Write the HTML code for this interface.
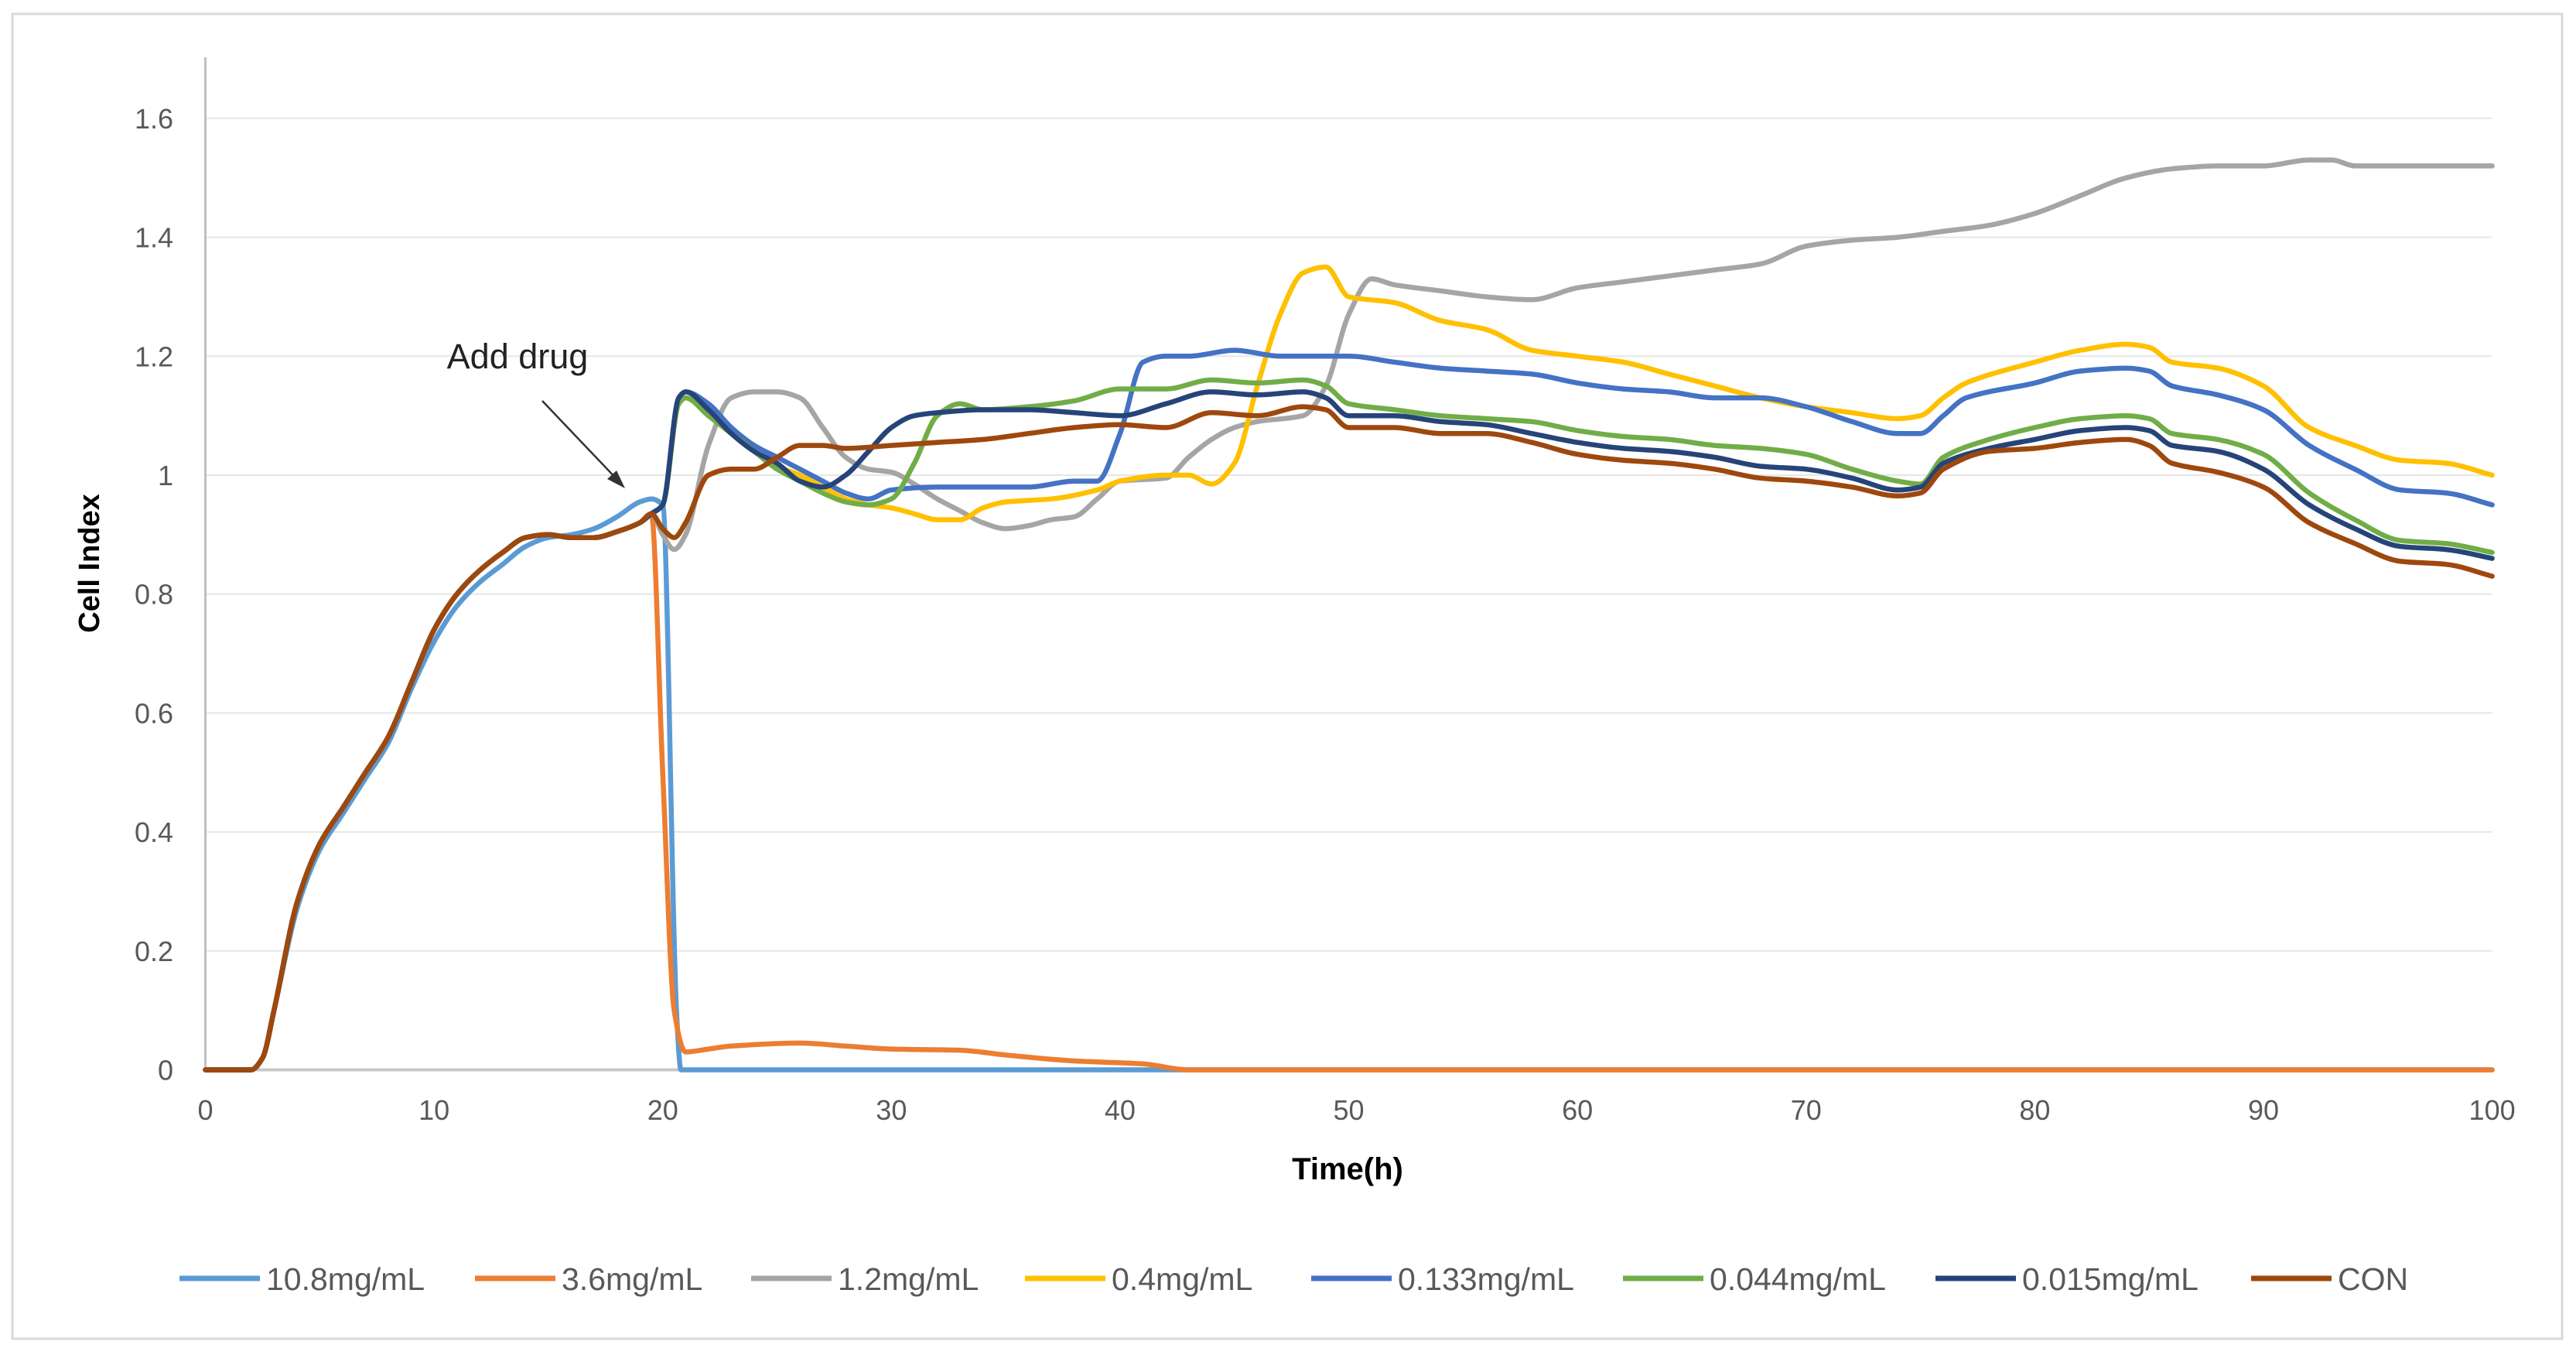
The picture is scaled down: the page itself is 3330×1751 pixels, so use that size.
<!DOCTYPE html>
<html><head><meta charset="utf-8"><style>
html,body{margin:0;padding:0;background:#fff}
svg text{font-family:"Liberation Sans",sans-serif}
</style></head><body>
<svg id="chart" width="3330" height="1746" xmlns="http://www.w3.org/2000/svg">
<rect x="16" y="18" width="3296" height="1712" fill="#fff" stroke="#d9d9d9" stroke-width="3"/>
<g id="grid"></g><g id="axes"></g><g id="series"></g><g id="legend"></g>
<text transform="translate(128,728) rotate(-90)" text-anchor="middle" font-size="38" font-weight="bold" fill="#000">Cell Index</text>
<text x="1742" y="1524" text-anchor="middle" font-size="40" font-weight="bold" fill="#000">Time(h)</text>
<text x="669" y="476" text-anchor="middle" font-size="45" fill="#222">Add drug</text>
<line x1="701" y1="518" x2="800" y2="622" stroke="#333" stroke-width="2.5"/>
<polygon points="808,631 785,619 797,608" fill="#333"/>
</svg>
<script>
const xTicks=[0,10,20,30,40,50,60,70,80,90,100];
const yTicks=[0,0.2,0.4,0.6,0.8,1,1.2,1.4,1.6];
const yTickLabels=["0","0.2","0.4","0.6","0.8","1","1.2","1.4","1.6"];
const seriesNames=["10.8mg/mL","3.6mg/mL","1.2mg/mL","0.4mg/mL","0.133mg/mL","0.044mg/mL","0.015mg/mL","CON"];
const preT=[0,1,2,2.5,3,4,5,6,7,8,9,10,11,12,13,14,15,16,17,18,19,19.5];
const preV=[0,0,0,0.02,0.1,0.28,0.38,0.44,0.5,0.56,0.65,0.74,0.8,0.84,0.87,0.895,0.9,0.895,0.895,0.905,0.92,0.935];
const t108=[0,1,2,2.5,3,4,5,6,7,8,9,10,11,12,13,14,15,16,17,18,19,19.5,20,20.6,20.8,100];
const v108=[0,0,0,0.02,0.1,0.27,0.37,0.43,0.49,0.55,0.64,0.72,0.78,0.82,0.85,0.88,0.895,0.9,0.91,0.93,0.955,0.96,0.95,0.1,0,0];
const t36=[20,20.5,21,22,23,26,28,30,33,35,38,41,43,100];
const v36=[0.5,0.1,0.03,0.035,0.04,0.045,0.04,0.035,0.033,0.025,0.015,0.01,0,0];
const t12=[20,20.5,21,22,23,24,25,26,27,28,29,30,31,32,33,34,35,36,37,38,39,40,42,43,44,45,46,48,49,50,51,52,54,56,58,60,62,64,66,68,70,72,74,76,78,80,82,84,86,88,90,92,93,94,96,100];
const v12=[0.9,0.875,0.9,1.05,1.13,1.14,1.14,1.13,1.08,1.03,1.01,1.005,0.985,0.96,0.94,0.92,0.91,0.915,0.925,0.93,0.96,0.99,0.995,1.03,1.06,1.08,1.09,1.1,1.15,1.27,1.33,1.32,1.31,1.3,1.295,1.315,1.325,1.335,1.345,1.355,1.385,1.395,1.4,1.41,1.42,1.44,1.47,1.5,1.515,1.52,1.52,1.53,1.53,1.52,1.52,1.52];
const t04=[20,20.7,21,22,23,24,25,26,27,28,29,30,31,32,33,34,35,37,39,40,42,43,44,45,46,47,48,49,50,52,54,56,58,60,62,64,66,68,70,72,74,75,76,77,80,82,84,85,86,88,90,92,94,96,98,100];
const v04=[0.95,1.12,1.13,1.1,1.07,1.04,1.015,1.0,0.98,0.96,0.95,0.945,0.935,0.925,0.925,0.945,0.955,0.96,0.975,0.99,1.0,1.0,0.985,1.02,1.15,1.27,1.34,1.35,1.3,1.29,1.26,1.245,1.21,1.2,1.19,1.17,1.15,1.13,1.115,1.105,1.095,1.1,1.13,1.155,1.19,1.21,1.22,1.215,1.19,1.18,1.15,1.08,1.05,1.025,1.02,1.0];
const t0133=[20,20.7,21,22,23,24,25,26,27,28,29,30,32,34,36,38,39,40,41,42,43,45,47,50,52,54,56,58,60,62,64,66,68,70,72,74,75,76,77,80,82,84,85,86,88,90,92,94,96,98,100];
const v0133=[0.95,1.13,1.14,1.12,1.08,1.05,1.03,1.01,0.99,0.97,0.96,0.975,0.98,0.98,0.98,0.99,0.99,1.07,1.19,1.2,1.2,1.21,1.2,1.2,1.19,1.18,1.175,1.17,1.155,1.145,1.14,1.13,1.13,1.115,1.09,1.07,1.07,1.1,1.13,1.155,1.175,1.18,1.175,1.15,1.135,1.11,1.05,1.01,0.975,0.97,0.95];
const t0044=[20,20.7,21,22,23,24,25,26,27,28,29,30,31,32,33,34,36,38,40,42,44,46,48,49,50,52,54,56,58,60,62,64,66,68,70,72,74,75,76,78,80,82,84,85,86,88,90,92,94,96,98,100];
const v0044=[0.95,1.12,1.13,1.1,1.07,1.04,1.01,0.99,0.97,0.955,0.95,0.96,1.02,1.1,1.12,1.11,1.115,1.125,1.145,1.145,1.16,1.155,1.16,1.15,1.12,1.11,1.1,1.095,1.09,1.075,1.065,1.06,1.05,1.045,1.035,1.01,0.99,0.985,1.03,1.06,1.08,1.095,1.1,1.095,1.07,1.06,1.035,0.97,0.925,0.89,0.885,0.87];
const t0015=[20,20.7,21,22,23,24,25,26,27,28,29,30,31,32,34,36,38,40,42,44,46,48,49,50,52,54,56,58,60,62,64,66,68,70,72,74,75,76,78,80,82,84,85,86,88,90,92,94,96,98,100];
const v0015=[0.95,1.13,1.14,1.11,1.07,1.04,1.02,0.99,0.98,1.0,1.04,1.08,1.1,1.105,1.11,1.11,1.105,1.1,1.12,1.14,1.135,1.14,1.13,1.1,1.1,1.09,1.085,1.07,1.055,1.045,1.04,1.03,1.015,1.01,0.995,0.975,0.98,1.02,1.045,1.06,1.075,1.08,1.075,1.05,1.04,1.01,0.95,0.91,0.88,0.875,0.86];
const tCon=[20,20.5,21,22,23,24,25,26,27,28,30,32,34,36,38,40,42,44,46,48,49,50,52,54,56,58,60,62,64,66,68,70,72,74,75,76,78,80,82,84,85,86,88,90,92,94,96,98,100];
const vCon=[0.91,0.895,0.92,1.0,1.01,1.01,1.03,1.05,1.05,1.045,1.05,1.055,1.06,1.07,1.08,1.085,1.08,1.105,1.1,1.115,1.11,1.08,1.08,1.07,1.07,1.055,1.035,1.025,1.02,1.01,0.995,0.99,0.98,0.965,0.97,1.01,1.04,1.045,1.055,1.06,1.05,1.02,1.005,0.98,0.92,0.885,0.855,0.85,0.83];

const colors=["#5B9BD5","#ED7D31","#A5A5A5","#FFC000","#4472C4","#70AD47","#264478","#9E480E"];
const X0=265.5,X1=3221.6,Y0=1382.5,Y1=152.9;
const xs=t=>X0+(X1-X0)*t/100;
const ys=v=>Y0-(Y0-Y1)*v/1.6;
const NS="http://www.w3.org/2000/svg";
function mk(tag,attrs,parent){const e=document.createElementNS(NS,tag);for(const k in attrs)e.setAttribute(k,attrs[k]);parent.appendChild(e);return e;}
function smoothPath(px,py){
  const n=px.length;const d=[],m=new Array(n).fill(0);
  for(let i=0;i<n-1;i++)d.push((py[i+1]-py[i])/(px[i+1]-px[i]));
  m[0]=d[0];m[n-1]=d[n-2];
  for(let i=1;i<n-1;i++){if(d[i-1]*d[i]<=0)m[i]=0;else m[i]=2/(1/d[i-1]+1/d[i]);}
  let s='M'+px[0].toFixed(1)+','+py[0].toFixed(1);
  for(let i=0;i<n-1;i++){const h=px[i+1]-px[i];
    s+=' C'+(px[i]+h/3).toFixed(1)+','+(py[i]+m[i]*h/3).toFixed(1)+' '+(px[i+1]-h/3).toFixed(1)+','+(py[i+1]-m[i+1]*h/3).toFixed(1)+' '+px[i+1].toFixed(1)+','+py[i+1].toFixed(1);}
  return s;
}
const grid=document.getElementById('grid'),axes=document.getElementById('axes'),ser=document.getElementById('series'),leg=document.getElementById('legend');
yTicks.forEach((v,i)=>{
  if(v>0){const g=mk('line',{x1:X0,x2:X1,y1:ys(v),y2:ys(v),stroke:'#e6e6e6','stroke-width':2},grid);
  
  }
  const t=mk('text',{x:224,y:ys(v)+13,'text-anchor':'end','font-size':36,fill:'#595959'},axes);
  t.textContent=yTickLabels[i];
  
  
});
xTicks.forEach(v=>{
  const t=mk('text',{x:xs(v),y:1447,'text-anchor':'middle','font-size':36,fill:'#595959'},axes);
  t.textContent=String(v);
  
  
});
const ya=mk('line',{x1:X0,x2:X0,y1:74,y2:Y0,stroke:'#bfbfbf','stroke-width':3},axes);


const xa=mk('line',{x1:X0,x2:X1,y1:Y0,y2:Y0,stroke:'#c8c8c8','stroke-width':4},axes);


const post=[[t108,v108],[t36,v36],[t12,v12],[t04,v04],[t0133,v0133],[t0044,v0044],[t0015,v0015],[tCon,vCon]];
post.forEach((p,i)=>{
  let T,V;
  if(i===0){T=p[0];V=p[1];}else{T=preT.concat(p[0]);V=preV.concat(p[1]);}
  const d=smoothPath(T.map(xs),V.map(ys));
  const l=mk('path',{d:d,fill:'none',stroke:colors[i],'stroke-width':6.5,'stroke-linejoin':'round','stroke-linecap':'round'},ser);
  
  
});
const legX=[232,614,971,1325,1695,2098,2502,2910];
seriesNames.forEach((n,i)=>{
  const x=legX[i],y=1652;
  const g=mk('g',{},leg);
  
  
  mk('line',{x1:x,x2:x+104,y1:y,y2:y,stroke:colors[i],'stroke-width':7},g);
  const t=mk('text',{x:x+112,y:y+15,'font-size':41,fill:'#595959'},g);
  t.textContent=n;
});
</script>
</body></html>
